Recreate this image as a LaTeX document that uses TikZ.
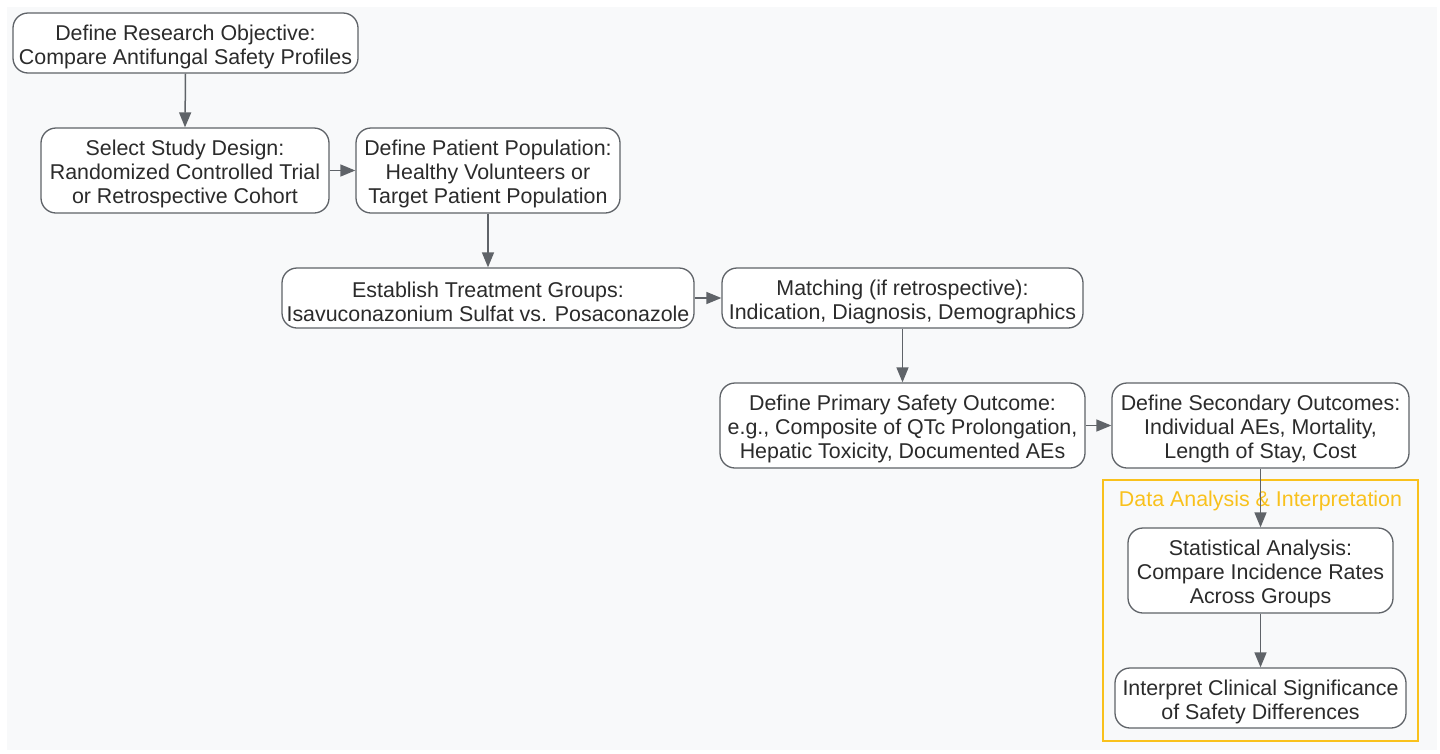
\documentclass[tikz,border=0pt]{standalone}
\usepackage{fontspec}
\setmainfont{Liberation Sans}
\usetikzlibrary{arrows.meta}
\definecolor{bgc}{HTML}{F8F9FA}
\definecolor{boxline}{HTML}{5F6368}
\definecolor{txt}{HTML}{2B2B2B}
\definecolor{gold}{HTML}{F9C11C}
\tikzset{
  box/.style={draw=boxline, line width=1.3pt, fill=white, rounded corners=15pt,
    inner sep=0pt},
  boxtext/.style={align=center, text=txt, inner sep=0pt, yshift=-3.5pt,
    font=\fontsize{21.4}{24}\selectfont},
  conn/.style={draw=boxline, line width=1.5pt, -{Triangle[length=15pt,width=12pt]}},
  cluster/.style={draw=gold, line width=1.5pt},
  clabel/.style={text=gold, font=\fontsize{21.4}{24}\selectfont, inner sep=0pt}
}
\begin{document}
\begin{tikzpicture}[x=1pt,y=-1pt]
\useasboundingbox (0,0) rectangle (1440,753);
\fill[bgc] (7,7) rectangle (1437,750);
% cluster
\draw[cluster] (1103,480) rectangle (1418,741);
\node[clabel] (cl) at (1260.5,501) {Data Analysis \& Interpretation};
% boxes
\node[box, minimum width=345pt, minimum height=60pt] (obj) at (185.5,43) {};
\node[box, minimum width=288pt, minimum height=85pt] (design) at (185,170.5) {};
\node[box, minimum width=264pt, minimum height=85pt] (pop) at (488,170.5) {};
\node[box, minimum width=412pt, minimum height=60pt] (groups) at (488,298) {};
\node[box, minimum width=361pt, minimum height=60pt] (match) at (902.5,298) {};
\node[box, minimum width=365pt, minimum height=85pt] (prim) at (902.5,425.5) {};
\node[box, minimum width=297pt, minimum height=85pt] (sec) at (1260.5,425.5) {};
\node[box, minimum width=265pt, minimum height=85pt] (stat) at (1260.5,570.5) {};
\node[box, minimum width=291pt, minimum height=60pt] (interp) at (1260.5,698) {};
% texts
\node[boxtext] (objt) at (obj.center) {Define Research Objective:\\Compare Antifungal Safety Profiles};
\node[boxtext] (designt) at (design.center) {Select Study Design:\\Randomized Controlled Trial\\or Retrospective Cohort};
\node[boxtext] (popt) at (pop.center) {Define Patient Population:\\Healthy Volunteers or\\Target Patient Population};
\node[boxtext] (groupst) at (groups.center) {Establish Treatment Groups:\\Isavuconazonium Sulfat vs. Posaconazole};
\node[boxtext] (matcht) at (match.center) {Matching (if retrospective):\\Indication, Diagnosis, Demographics};
\node[boxtext] (primt) at (prim.center) {Define Primary Safety Outcome:\\e.g., Composite of QTc Prolongation,\\Hepatic Toxicity, Documented AEs};
\node[boxtext] (sect) at (sec.center) {Define Secondary Outcomes:\\Individual AEs, Mortality,\\Length of Stay, Cost};
\node[boxtext] (statt) at (stat.center) {Statistical Analysis:\\Compare Incidence Rates\\Across Groups};
\node[boxtext] (interpt) at (interp.center) {Interpret Clinical Significance\\of Safety Differences};
% connectors
\draw[conn] (obj.south) -- (design.north);
\draw[conn] (design.east) -- (pop.west);
\draw[conn] (pop.south) -- (groups.north);
\draw[conn] (groups.east) -- (match.west);
\draw[conn] (match.south) -- (prim.north);
\draw[conn] (prim.east) -- (sec.west);
\draw[conn] (sec.south) -- (stat.north);
\draw[conn] (stat.south) -- (interp.north);
\end{tikzpicture}
\end{document}
